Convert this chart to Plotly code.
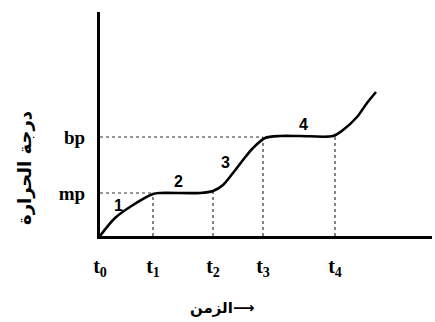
import plotly.graph_objects as go

# time / temperature (arbitrary units)
curve_time = [0, 15, 33, 53, 60, 100, 113, 123, 133, 143, 153, 165, 180, 200, 233, 243, 257, 267, 276]
curve_temp = [0, 18, 31, 42, 43, 43, 45, 51, 63, 76, 88, 98, 100, 100, 100, 106, 119, 133, 144]

time_ticks = [0, 53, 113, 163, 235]
time_labels = ["t<sub>0</sub>", "t<sub>1</sub>", "t<sub>2</sub>", "t<sub>3</sub>", "t<sub>4</sub>"]
temp_ticks = [43, 99]
temp_labels = ["mp", "bp"]

# dotted guides: drop lines at each t and reference lines for mp / bp
guide_time = [53, 113, 163, 235]
guide_top = [43, 45, 99, 101]
ref_end = [53, 163]

# stage numbers on the curve
stage_labels = ["1", "2", "3", "4"]
stage_time = [18, 78, 125, 203]
stage_temp = [31, 55, 74, 112]

BLACK = "#000000"
SERIF = "Liberation Serif"

fig = go.Figure()

for t, top in zip(guide_time, guide_top):
    fig.add_trace(go.Scatter(
        x=[t, t], y=[0, top], mode="lines",
        line=dict(color="#333333", width=1.2, dash="dot"),
        hoverinfo="skip",
    ))
for level, end in zip(temp_ticks, ref_end):
    fig.add_trace(go.Scatter(
        x=[0, end], y=[level, level], mode="lines",
        line=dict(color="#333333", width=1.2, dash="dot"),
        hoverinfo="skip",
    ))

fig.add_trace(go.Scatter(
    x=curve_time, y=curve_temp, mode="lines",
    line=dict(color=BLACK, width=2.6, shape="spline", smoothing=0.8),
))

for txt, x, y in zip(stage_labels, stage_time, stage_temp):
    fig.add_annotation(
        x=x, y=y, text=f"<b>{txt}</b>", showarrow=False,
        font=dict(family="Liberation Sans", size=16, color=BLACK),
    )

# axis titles
fig.add_annotation(
    xref="paper", yref="paper", x=(222 - 100) / 332, y=-(308 - 236) / 224,
    xanchor="center", yanchor="middle",
    text="<b>الزمن⟶</b>", showarrow=False,
    font=dict(family="DejaVu Sans", size=15, color=BLACK),
)
fig.add_annotation(
    xref="paper", yref="paper", x=-(100 - 25) / 332, y=(236 - 168) / 224,
    xanchor="center", yanchor="middle",
    text="<b>درجة الحرارة</b>", showarrow=False, textangle=-90,
    font=dict(family="DejaVu Sans", size=18, color=BLACK),
)

fig.update_xaxes(
    range=[0, 332], showgrid=False, zeroline=False,
    showline=True, linecolor=BLACK, linewidth=3,
    tickvals=time_ticks, ticktext=time_labels, ticks="",
    ticklabelstandoff=10,
    tickfont=dict(family=SERIF, size=20, color=BLACK, weight="bold"),
)
fig.update_yaxes(
    range=[0, 224], showgrid=False, zeroline=False,
    showline=True, linecolor=BLACK, linewidth=3,
    tickvals=temp_ticks, ticktext=temp_labels, ticks="",
    ticklabelstandoff=8,
    tickfont=dict(family=SERIF, size=19, color=BLACK, weight="bold"),
)

fig.update_layout(
    showlegend=False,
    autosize=False,
    width=435,
    height=322,
    margin=dict(l=100, r=3, t=12, b=86, pad=0),
    plot_bgcolor="white",
    paper_bgcolor="white",
)

# drop the default page margin so the figure sits at the window's corner
fig.write_html(
    "out.html",
    config={"displayModeBar": False},
    post_script="document.body.style.margin = '0';",
)
